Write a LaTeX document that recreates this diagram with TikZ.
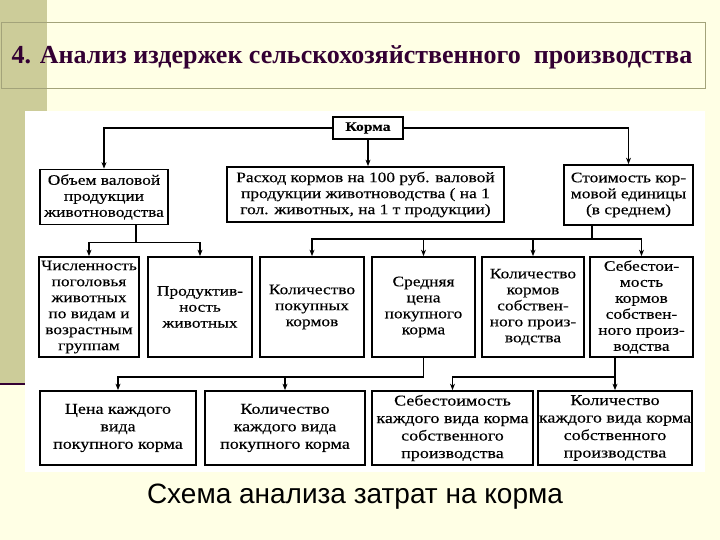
\documentclass[tikz,border=0pt]{standalone}
\usepackage{fontspec}
\setmainfont{Liberation Serif}
\setsansfont{Liberation Sans}
\newfontfamily\scanfont[FakeStretch=1.2, FakeBold=0.3]{Liberation Serif}
\usetikzlibrary{positioning, arrows.meta, calc}
\definecolor{cream}{RGB}{255,255,229}
\definecolor{olivebar}{RGB}{204,204,153}
\definecolor{titlepurple}{RGB}{51,0,51}

\begin{document}
\begin{tikzpicture}[
    x=1pt, y=-1pt,
    box/.style={draw, line width=1.7pt, inner sep=0pt, align=center,
                font=\scanfont\fontsize{14.5}{16}\selectfont},
    lvl1/.style={box, minimum height=55pt},
    lvl2/.style={box, minimum height=100pt},
    lvl3/.style={box, minimum height=74pt, font=\scanfont\fontsize{15}{17.5}\selectfont},
    arr/.style={-{Stealth[length=6.5pt, width=5pt]}, line width=1.7pt},
    link/.style={line width=1.7pt},
]
\useasboundingbox (0,0) rectangle (720,540);

% Slide background
\fill[cream] (0,0) rectangle (720,540);
\fill[olivebar] (0,0) rectangle (47,384);
\draw[titlepurple, line width=2.5pt] (0,384) -- (25,384);
\draw[olivebar!80!black, line width=0.8pt] (1,22) rectangle (705,88);
\node[font=\bfseries\fontsize{26}{30}\selectfont, text=titlepurple] (title) at (352,57)
    {4. Анализ издержек сельскохозяйственного~~производства};
\fill[white] (25,111) rectangle (705,472);

% Top level
\node[box, font=\scanfont\bfseries\fontsize{13}{15}\selectfont,
      minimum width=70pt, minimum height=22pt] (korma) at (368,128) {Корма};
\node[lvl1, minimum width=128pt] (obem) at (104,197) {Объем валовой\\продукции\\животноводства};
\node[lvl1, minimum width=277pt] (rashod) at (365.5,194.5)
    {Расход кормов на 100 руб. валовой\\продукции животноводства ( на 1\\гол. животных, на 1 т продукции)};
\node[lvl1, minimum width=129pt, minimum height=60pt] (stoim) at (628.5,195)
    {Стоимость кор-\\мовой единицы\\(в среднем)};

% Second level
\node[lvl2, minimum width=100pt] (chisl) at (89,307)
    {Численность\\поголовья\\животных\\по видам и\\возрастным\\группам};
\node[lvl2, minimum width=104pt] (prod) at (200,307) {Продуктив-\\ность\\животных};
\node[lvl2, minimum width=104pt] (kolpok) at (312,307) {Количество\\покупных\\кормов};
\node[lvl2, minimum width=103pt] (sredn) at (423.5,307) {Средняя\\цена\\покупного\\корма};
\node[lvl2, minimum width=102pt] (kolsob) at (533,307)
    {Количество\\кормов\\собствен-\\ного произ-\\водства};
\node[lvl2, minimum width=103pt] (sebest) at (641.5,307)
    {Себестои-\\мость\\кормов\\собствен-\\ного произ-\\водства};

% Third level
\node[lvl3, minimum width=156pt] (cenakazh) at (118,428) {Цена каждого\\вида\\покупного корма};
\node[lvl3, minimum width=160pt] (kolkazh) at (285,428) {Количество\\каждого вида\\покупного корма};
\node[lvl3, minimum width=161pt] (sebkazh) at (452.5,428)
    {Себестоимость\\каждого вида корма\\собственного\\производства};
\node[lvl3, minimum width=154pt] (kolkazhsob) at (615,428)
    {Количество\\каждого вида корма\\собственного\\производства};

% Connectors
\draw[arr] (korma.west) -| (obem.north);
\draw[arr] (korma.east) -| (stoim.north);
\draw[arr] (korma.south) -- (korma.south |- rashod.north);

\draw[link] ([xshift=32pt]obem.south) -- ++(0,17) coordinate (obemfork);
\draw[arr] (obemfork) -| (chisl.north);
\draw[arr] (obemfork) -| (prod.north);

\draw[link] ([xshift=-36.5pt]stoim.south) -- ++(0,13) coordinate (stoimfork);
\foreach \n in {kolpok, sredn, kolsob, sebest}
    \draw[arr] (stoimfork) -| (\n.north);

\draw[link] (sredn.south) -- ++(0,19) coordinate (srednfork);
\draw[arr] (srednfork) -| (cenakazh.north);
\draw[arr] (srednfork) -| (kolkazh.north);

\draw[link] ([xshift=-26.5pt]sebest.south) -- ++(0,19) coordinate (sebestfork);
\draw[arr] (sebestfork) -| (sebkazh.north);
\draw[arr] (sebestfork) -| (kolkazhsob.north);

% Caption
\node[font=\sffamily\fontsize{28}{32}\selectfont] (caption) at (355,497) {Схема анализа затрат на корма};

\end{tikzpicture}
\end{document}
